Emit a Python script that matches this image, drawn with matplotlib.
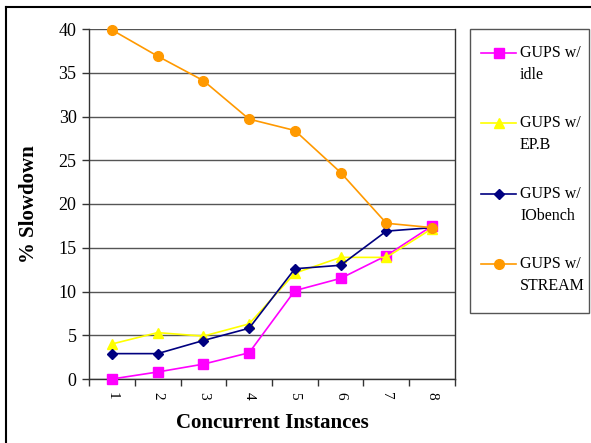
import matplotlib
matplotlib.use("Agg")
import matplotlib.pyplot as plt
from matplotlib.lines import Line2D
from matplotlib.patches import Rectangle

instances = [1, 2, 3, 4, 5, 6, 7, 8]
tick_labels = ["1", "2", "3", "4", "5", "6", "7", "8"]
gups_idle = [0.0, 0.8, 1.7, 3.0, 10.1, 11.5, 14.1, 17.5]
gups_epb = [4.0, 5.3, 4.9, 6.3, 12.1, 13.9, 13.9, 17.2]
gups_iobench = [2.9, 2.9, 4.4, 5.8, 12.6, 13.0, 16.9, 17.3]
gups_stream = [39.9, 36.9, 34.1, 29.7, 28.4, 23.6, 17.8, 17.3]

series = [
    (("GUPS w/", "idle"), gups_idle, "#FF00FF", "s", 6.5),
    (("GUPS w/", "EP.B"), gups_epb, "#FFFF00", "^", 7.0),
    (("GUPS w/", "IObench"), gups_iobench, "#000080", "D", 4.8),
    (("GUPS w/", "STREAM"), gups_stream, "#FF9900", "o", 7.0),
]

plt.rcParams["font.family"] = ["Liberation Serif", "DejaVu Serif"]

W, H = 591, 443
fig = plt.figure(figsize=(W / 100, H / 100), dpi=100)
fig.patch.set_facecolor("white")


def fx(px):
    return px / W


def fy(py):
    return 1 - py / H


# outer chart frame (top and left edges visible)
fig.add_artist(Line2D([fx(6), 1.0], [fy(7), fy(7)],
                      transform=fig.transFigure, color="black", lw=1.5))
fig.add_artist(Line2D([fx(6), fx(6)], [0.0, fy(7)],
                      transform=fig.transFigure, color="black", lw=1.5))

ax = fig.add_axes([fx(89), fy(379), (455 - 89) / W, (379 - 29) / H])

for label, vals, color, marker, ms in series:
    ax.plot(instances, vals, color=color, marker=marker, markersize=ms,
            markeredgecolor=color, lw=1.2, clip_on=False, zorder=3)

ax.set_xlim(0.5, 8.5)
ax.set_ylim(0, 40)
ax.set_yticks(range(0, 41, 5))
ax.yaxis.grid(True, color="#555555", lw=1.0)
ax.set_axisbelow(True)

# tick marks sit between categories, labels at category centres
ax.set_xticks([i + 0.5 for i in range(0, 9)])
ax.set_xticklabels([])
ax.set_xticks(instances, minor=True)
ax.set_xticklabels(tick_labels, minor=True, rotation=-90, fontsize=11)
ax.tick_params(axis="x", which="major", direction="out", length=5, width=1, color="#333333")
ax.tick_params(axis="x", which="minor", length=0, pad=9)
ax.tick_params(axis="y", direction="out", length=5, width=1, color="#333333",
               labelsize=13, pad=4)

for side in ["top", "right", "left", "bottom"]:
    ax.spines[side].set_color("#333333")
    ax.spines[side].set_linewidth(1.0)
ax.spines["top"].set_visible(False)

ax.set_xlabel("Concurrent Instances", fontsize=15, fontweight="bold", labelpad=10)
ax.set_ylabel("% Slowdown", fontsize=15, fontweight="bold", labelpad=14)

# legend box with two-line entries
fig.add_artist(Rectangle((fx(470), fy(313)), (589 - 470) / W, (313 - 29) / H,
                         transform=fig.transFigure, facecolor="white",
                         edgecolor="#555555", lw=1.0))
entry_y = [53, 123, 194, 264]
for y0, ((l1, l2), vals, color, marker, ms) in zip(entry_y, series):
    fig.add_artist(Line2D([fx(481), fx(516)], [fy(y0), fy(y0)],
                          transform=fig.transFigure, color=color, lw=1.2))
    fig.add_artist(Line2D([fx(498.5)], [fy(y0)], transform=fig.transFigure,
                          color=color, marker=marker, markersize=ms,
                          markeredgecolor=color, lw=0))
    fig.text(fx(520), fy(y0), l1, fontsize=11.5, va="center", ha="left")
    fig.text(fx(520), fy(y0 + 22), l2, fontsize=11.5, va="center", ha="left")

fig.savefig("out.png", dpi=100)
